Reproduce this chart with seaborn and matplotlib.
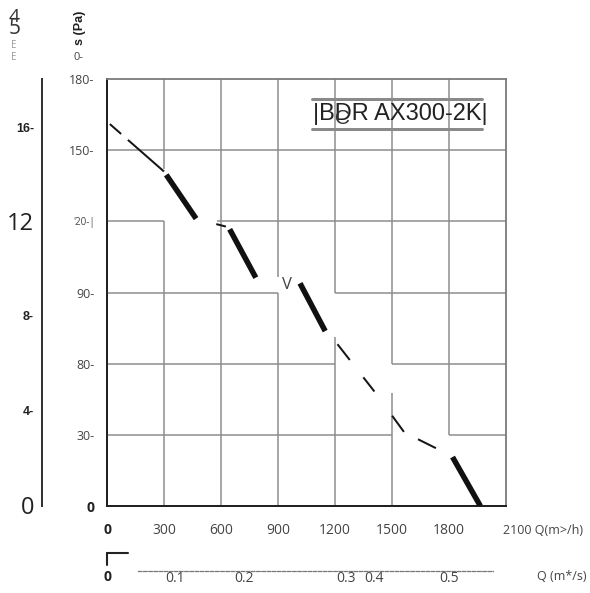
import matplotlib
matplotlib.use("Agg")
import matplotlib.pyplot as plt
from matplotlib.ticker import MultipleLocator, FixedLocator
from matplotlib.lines import Line2D
import pandas as pd
import seaborn as sns

# ---------------- data ----------------
flow_m3h = [15, 300, 470, 640, 785, 1015, 1150, 1215, 1410, 1565, 1816, 1965]
pressure_pa = [161, 141, 121, 117.5, 96, 94, 73.5, 68, 48, 31, 21, 0]

y_ticks = [0, 30, 60, 90, 120, 150, 180]
y_tick_labels = ["0", "30-", "80-", "90-", "'20-|", "150-", "180-"]

x_ticks = [0, 300, 600, 900, 1200, 1500, 1800, 2100]
x_tick_labels = ["0", "300", "600", "900", "1200", "1500", "1800", ""]

left_ticks = [0, 4, 8, 12, 16]
left_tick_labels = ["0", "4-", "8-", "12", "16-"]

q_s_pos = [0.1, 0.2, 0.35, 0.39, 0.5]
q_s_labels = ["0.1", "0.2", "0.3", "0.4", "0.5"]
q_s_marks = [0.045, 0.142, 0.149, 0.268, 0.342, 0.351, 0.360, 0.444, 0.502]

title_text = "|BDR AX300-2K|"

# grid lines of the scanned sheet, with the pieces that are missing
grid_x = [300, 600, 900, 1200, 1500, 1800]
grid_y = [30, 60, 90, 120, 150]
grid_gaps_x = {300: [(120, 142)], 900: [(90, 96.5)], 1200: [(71.4, 90)],
               1500: [(47.7, 60)], 1800: [(0, 30)]}
grid_gaps_y = {120: [(300, 579)], 90: [(900, 1200)], 60: [(1200, 1500)],
               30: [(1500, 1800)]}

# ---------------- style ----------------
sns.set_style("white")
plt.rcParams["font.family"] = ["Open Sans", "DejaVu Sans"]
plt.rcParams["lines.scale_dashes"] = False

W, H = 590, 593
fig = plt.figure(figsize=(W / 100, H / 100), dpi=100)
fig.patch.set_facecolor("white")


def fx(px):
    return px / W


def fy(py):
    return 1 - py / H


PX = 72 / 100  # points per pixel
GRID_C = "#8c8c8c"


def pieces(lo, hi, gaps):
    out, start = [], lo
    for a, b in sorted(gaps):
        if a > start:
            out.append((start, a))
        start = max(start, b)
    if start < hi:
        out.append((start, hi))
    return out


# ---------------- main axes ----------------
ax = fig.add_axes([fx(107), fy(506), 399 / W, 427 / H])
df = pd.DataFrame({"Q": flow_m3h, "P": pressure_pa})

for gx in grid_x:
    for a, b in pieces(0, 180, grid_gaps_x.get(gx, [])):
        ax.vlines(gx, a, b, color=GRID_C, lw=1.5 * PX, zorder=0.5)
for gy in grid_y:
    for a, b in pieces(0, 2100, grid_gaps_y.get(gy, [])):
        ax.hlines(gy, a, b, color=GRID_C, lw=1.5 * PX, zorder=0.5)

# thin dashed part
sns.lineplot(data=df, x="Q", y="P", ax=ax, color="#151515", lw=2 * PX,
             sort=False, zorder=2)
thin_px = [15, 9, 48, 78, 10, 177, 20, 22, 18, 30, 20, 16, 20, 100]
thin = ax.lines[-1]
thin.set_linestyle((0, [v * PX for v in thin_px]))
thin.set_dash_capstyle("butt")
# thick dashed part
sns.lineplot(data=df, x="Q", y="P", ax=ax, color="#111111", lw=5.5 * PX,
             sort=False, zorder=3)
thick_px = [0.01, 76, 53, 36, 55, 45, 54, 183, 60, 100]
thick = ax.lines[-1]
thick.set_linestyle((0, [v * PX for v in thick_px]))
thick.set_dash_capstyle("butt")

ax.set_xlim(0, 2100)
ax.set_ylim(0, 180)
ax.set_xlabel("")
ax.set_ylabel("")

for s in ["left", "bottom"]:
    ax.spines[s].set_color("#222222")
    ax.spines[s].set_linewidth(2 * PX)
for s in ["top", "right"]:
    ax.spines[s].set_color("#7a7a7a")
    ax.spines[s].set_linewidth(1.8 * PX)

ax.set_yticks(y_ticks)
ax.set_yticklabels(y_tick_labels)
ax.yaxis.set_minor_locator(MultipleLocator(7.5))
ax.tick_params(axis="y", which="major", direction="out", length=11 * PX,
               width=1.8 * PX, color="#333333", labelsize=9,
               labelcolor="#444444", pad=1)
ax.tick_params(axis="y", which="minor", direction="out", length=8 * PX,
               width=1.8 * PX, color="#333333")
for lab in ax.get_yticklabels():
    if lab.get_text() == "0":
        lab.set_fontweight("bold")
        lab.set_color("#222222")
        lab.set_fontsize(10)
    if lab.get_text().startswith("'"):
        lab.set_fontsize(7)

ax.set_xticks(x_ticks)
ax.set_xticklabels(x_tick_labels)
ax.xaxis.set_minor_locator(MultipleLocator(75))
ax.tick_params(axis="x", which="major", direction="out", length=14 * PX,
               width=1.8 * PX, color="#333333", labelsize=10,
               labelcolor="#444444", pad=2)
ax.tick_params(axis="x", which="minor", direction="out", length=9 * PX,
               width=1.8 * PX, color="#333333")
for lab in ax.get_xticklabels():
    if lab.get_text() == "0":
        lab.set_fontweight("bold")
        lab.set_color("#222222")

# title box
ax.axhline(171.5, 0.514, 0.940, color="#8a8a8a", lw=3 * PX, zorder=4)
ax.axhline(158.9, 0.514, 0.940, color="#8a8a8a", lw=3 * PX, zorder=4)
ax.text(0.734, 0.918, title_text, transform=ax.transAxes, ha="center",
        va="center", fontsize=17, color="#222222",
        family=["Liberation Sans", "DejaVu Sans"], zorder=5)
ax.text(0.589, 0.908, "C", transform=ax.transAxes, ha="center", va="center",
        fontsize=15, color="#333333",
        family=["Liberation Sans", "DejaVu Sans"], zorder=5)
ax.text(0.451, 0.518, "V", transform=ax.transAxes, ha="center",
        va="center", fontsize=12, color="#444444", zorder=5)

# ---------------- left (outer) axis ----------------
axl = fig.add_axes([fx(42), fy(506), 0.0005, 427 / H])
axl.set_ylim(-0.06, 18.04)
axl.set_xticks([])
for s in ["right", "top", "bottom"]:
    axl.spines[s].set_visible(False)
axl.spines["left"].set_color("#333333")
axl.spines["left"].set_linewidth(2 * PX)
axl.set_yticks(left_ticks)
axl.set_yticklabels(left_tick_labels)
axl.yaxis.set_minor_locator(FixedLocator([2, 6, 10, 14, 18]))
axl.tick_params(axis="y", which="both", direction="out", length=8 * PX,
                width=1.8 * PX, color="#333333", pad=0)
for lab in axl.get_yticklabels():
    t = lab.get_text()
    if t in ("12", "0"):
        lab.set_fontsize(17)
        lab.set_color("#222222")
    else:
        lab.set_fontsize(9)
        lab.set_fontweight("bold")
        lab.set_color("#222222")
        lab.set_family(["Liberation Sans", "DejaVu Sans"])

# ---------------- bottom secondary axis (m3/s) ----------------
axq = fig.add_axes([fx(107), fy(571), 399 / W, 0.0005])
axq.set_xlim(0, 2100 / 3600)
axq.set_yticks([])
axq.patch.set_alpha(0)
for s in ["left", "right", "top"]:
    axq.spines[s].set_visible(False)
axq.spines["bottom"].set_linestyle((0, (2.5, 1.2)))
axq.spines["bottom"].set_color("#777777")
axq.spines["bottom"].set_linewidth(0.9)
axq.spines["bottom"].set_bounds(0.0453, 0.5643)
axq.set_xticks(q_s_pos)
axq.set_xticklabels(q_s_labels)
axq.xaxis.set_minor_locator(FixedLocator(q_s_marks))
axq.tick_params(axis="x", which="major", length=0, labelsize=10,
                labelcolor="#444444", pad=0)
axq.tick_params(axis="x", which="minor", direction="in", length=4,
                width=0.8, color="#777777")

# ---------------- free texts ----------------
fig.text(fx(503), fy(530), "2100 Q(m>/h)", ha="left", va="center",
         fontsize=9, color="#444444")
fig.text(fx(537), fy(577), "Q (m*/s)", ha="left", va="center",
         fontsize=9, color="#444444")
fig.text(fx(107), fy(577), "0", ha="center", va="center", fontsize=10,
         fontweight="bold", color="#222222")
fig.add_artist(Line2D([fx(107), fx(107)], [fy(553), fy(565)],
                      transform=fig.transFigure, color="#222222", lw=1.5))
fig.add_artist(Line2D([fx(107), fx(128)], [fy(553), fy(553)],
                      transform=fig.transFigure, color="#222222", lw=1.5))

fig.text(fx(80), fy(28), "s (Pa)", rotation=90, ha="center", va="center",
         fontsize=9, fontweight="bold", color="#222222",
         family=["Liberation Sans", "DejaVu Sans"])
fig.text(fx(78), fy(58), "0-", ha="center", va="center", fontsize=8,
         color="#444444")
fig.text(fx(14), fy(17), "4", ha="center", va="center", fontsize=14,
         color="#333333")
fig.text(fx(15), fy(28), "5", ha="center", va="center", fontsize=15,
         color="#333333")
fig.text(fx(14), fy(45), "E", ha="center", va="center", fontsize=7,
         color="#999999")
fig.text(fx(14), fy(58), "E", ha="center", va="center", fontsize=7,
         color="#999999")

fig.savefig("out.png", dpi=100, facecolor="white")
